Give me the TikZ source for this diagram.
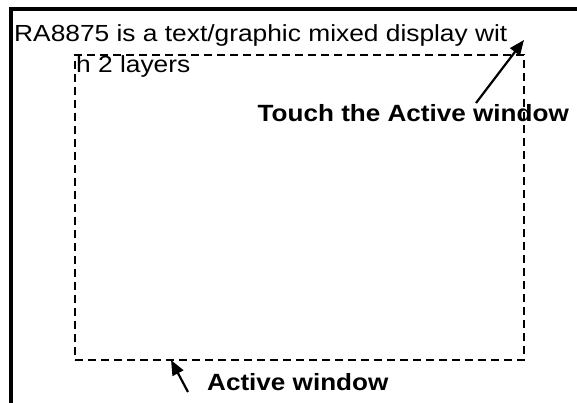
\documentclass[tikz,border=0pt]{standalone}
\usepackage{fontspec}
\setmainfont[FakeStretch=1.13]{Liberation Sans}
\newfontfamily\boldwide[FakeStretch=1.11]{Liberation Sans}
\usetikzlibrary{arrows.meta}
\begin{document}
\begin{tikzpicture}[x=1pt,y=-1pt,
  txt/.style={inner sep=0pt,anchor=base west,font=\fontsize{23.3}{28}\selectfont},
  btxt/.style={inner sep=0pt,anchor=base west,font=\boldwide\bfseries\fontsize{23.5}{28}\selectfont},
  frame/.style={line width=3.8pt},
  window/.style={draw,dashed,dash pattern=on 8pt off 5pt,line width=1.8pt,inner sep=0pt},
  pointer/.style={line width=2.2pt,-{Triangle[length=15pt,width=12pt]}}]
\useasboundingbox (0,0) rectangle (577,403);
\fill[white] (0,0) rectangle (577,403);
% outer display frame (only top and left visible)
\draw[frame] (10.6,410) -- (10.6,9) -- (590,9);
% active window
\node[window,minimum width=449pt,minimum height=305pt] (aw) at (299.5,207.5) {};
% texts
\node[txt] (l1) at (14,42) {RA8875 is a text/graphic mixed display wit};
\node[txt] (l2) at (76,73) {h 2 layers};
\node[btxt] (touch) at (257.5,122) {Touch the Active window};
\node[btxt] (act) at (207,390) {Active window};
% arrows
\coordinate (t1) at (476,103);
\coordinate (h1) at (524,40);
\coordinate (t2) at (188,392);
\coordinate (h2) at (171,360);
\draw[pointer] (t1) -- (h1);
\draw[pointer] (t2) -- (h2);
\end{tikzpicture}
\end{document}
